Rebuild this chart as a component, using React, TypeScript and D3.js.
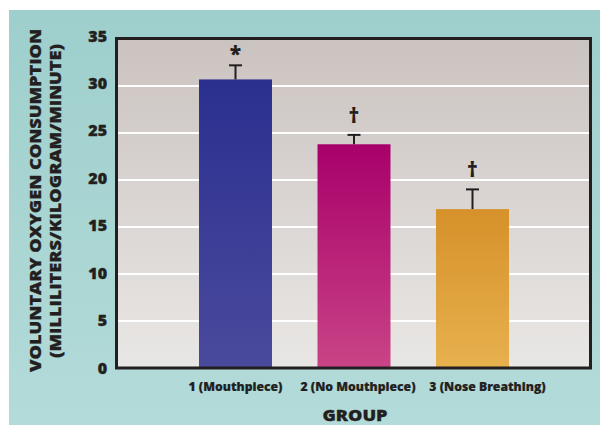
import React from "react";
import * as d3 from "d3";

const groups = ["1 (Mouthpiece)", "2 (No Mouthpiece)", "3 (Nose Breathing)"];
const means = [30.7, 23.8, 16.9];
const errors = [1.5, 1.0, 2.1];
const markers = ["*", "\u2020", "\u2020"];
const yTicks = [0, 5, 10, 15, 20, 25, 30, 35];
const barTop = ["#2b2f8f", "#a8006a", "#d6912a"];
const barBottom = ["#4a4a9d", "#c94486", "#e7b14e"];

const W = 600;
const H = 425;
const plot = { left: 117, right: 591, top: 39, bottom: 368 };
const labelShift = [0, 4, 15];
const FONT = "'Open Sans', 'Liberation Sans', Arial, sans-serif";
const INK = "#231f20";

export default function App() {
  const x = d3
    .scaleBand<string>()
    .domain(groups)
    .range([plot.left, plot.right])
    .paddingInner(0.384)
    .paddingOuter(0.692);
  const y = d3.scaleLinear().domain([0, 35]).range([plot.bottom, plot.top]);

  return (
    <svg
      width={W}
      height={H}
      style={{ position: "absolute", left: 0, top: 0, display: "block" }}
    >
      <defs>
        <linearGradient id="bgTeal" x1="0" y1="0" x2="0" y2="1">
          <stop offset="0" stopColor="#9ecfcc" />
          <stop offset="1" stopColor="#b3dbd9" />
        </linearGradient>
        <linearGradient id="plotBg" x1="0" y1="0" x2="0" y2="1">
          <stop offset="0" stopColor="#cbc3c0" />
          <stop offset="1" stopColor="#e9e7e5" />
        </linearGradient>
        {groups.map((g, i) => (
          <linearGradient key={g} id={`bar${i}`} x1="0" y1="0" x2="0" y2="1">
            <stop offset="0" stopColor={barTop[i]} />
            <stop offset="1" stopColor={barBottom[i]} />
          </linearGradient>
        ))}
      </defs>
      <rect x={0} y={0} width={W} height={H} fill="#ffffff" />
      <rect x={9} y={10} width={W - 9} height={H - 10} fill="url(#bgTeal)" />

      <rect
        x={plot.left}
        y={plot.top}
        width={plot.right - plot.left}
        height={plot.bottom - plot.top}
        fill="url(#plotBg)"
      />
      {yTicks
        .filter((t) => t > 0 && t < 35)
        .map((t) => (
          <line
            key={t}
            x1={plot.left}
            x2={plot.right}
            y1={y(t)}
            y2={y(t)}
            stroke="#ffffff"
            strokeWidth={2}
          />
        ))}

      {groups.map((g, i) => {
        const bx = x(g) as number;
        const cx = bx + x.bandwidth() / 2;
        const top = y(means[i]);
        const errTop = y(means[i] + errors[i]);
        const isStar = markers[i] === "*";
        return (
          <g key={g}>
            <rect
              x={bx}
              y={top}
              width={x.bandwidth()}
              height={y(0) - top}
              fill={`url(#bar${i})`}
            />
            <line x1={cx} x2={cx} y1={top} y2={errTop} stroke={INK} strokeWidth={2} />
            <line
              x1={cx - 6.5}
              x2={cx + 6.5}
              y1={errTop}
              y2={errTop}
              stroke={INK}
              strokeWidth={2}
            />
            <text
              x={cx}
              y={isStar ? errTop - 4 : errTop - 12}
              textAnchor="middle"
              fontFamily={FONT}
              fontWeight={800}
              fontSize={isStar ? 21 : 21}
              fill={INK}
            >
              {markers[i]}
            </text>
          </g>
        );
      })}

      <rect
        x={plot.left - 0.5}
        y={plot.top - 0.5}
        width={plot.right - plot.left}
        height={plot.bottom - plot.top + 0.5}
        fill="none"
        stroke={INK}
        strokeWidth={3}
      />

      {yTicks.map((t) => (
        <text
          key={t}
          x={107}
          y={y(t) + 5.5 - (t / 35) * 3}
          textAnchor="end"
          fontFamily={FONT}
          fontWeight={800}
          fontSize={16}
          stroke={INK}
          strokeWidth={0.4}
          fill={INK}
        >
          {t}
        </text>
      ))}

      {groups.map((g, i) => (
        <text
          key={g}
          x={(x(g) as number) + x.bandwidth() / 2 + labelShift[i]}
          y={391}
          textAnchor="middle"
          fontFamily={FONT}
          fontWeight={800}
          fontSize={12.2}
          stroke={INK}
          strokeWidth={0.2}
          fill={INK}
        >
          {g}
        </text>
      ))}

      <text
        x={355}
        y={421}
        textAnchor="middle"
        fontFamily={FONT}
        fontWeight={800}
        fontSize={16}
        textLength={65}
        lengthAdjust="spacingAndGlyphs"
        stroke={INK}
        strokeWidth={0.3}
        fill={INK}
      >
        GROUP
      </text>

      <text
        transform="translate(41,200.5) rotate(-90)"
        textAnchor="middle"
        fontFamily={FONT}
        fontWeight={800}
        fontSize={15.5}
        textLength={343}
        lengthAdjust="spacingAndGlyphs"
        stroke={INK}
        strokeWidth={0.3}
        fill={INK}
      >
        VOLUNTARY OXYGEN CONSUMPTION
      </text>
      <text
        transform="translate(61,201) rotate(-90)"
        textAnchor="middle"
        fontFamily={FONT}
        fontWeight={800}
        fontSize={15}
        textLength={314}
        lengthAdjust="spacingAndGlyphs"
        stroke={INK}
        strokeWidth={0.3}
        fill={INK}
      >
        (MILLILITERS/KILOGRAM/MINUTE)
      </text>
    </svg>
  );
}
